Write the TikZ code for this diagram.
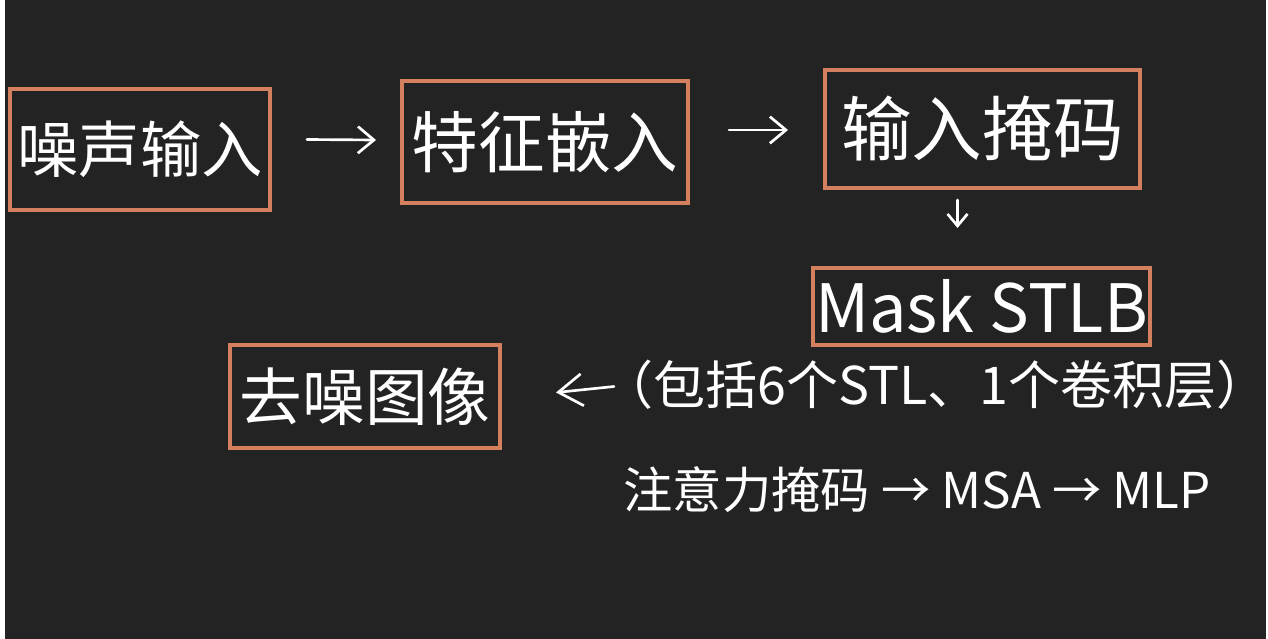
\documentclass[tikz,border=0pt]{standalone}
\usepackage{fontspec}
\setmainfont{Noto Sans CJK SC}
\usetikzlibrary{arrows.meta}
\definecolor{bg}{RGB}{35,35,36}
\definecolor{boxc}{RGB}{212,128,95}
\begin{document}
\begin{tikzpicture}[x=0.75pt,y=-0.75pt,
  box/.style={draw=boxc,line width=3pt,text=white,inner sep=0pt},
  arr/.style={draw=white,line width=2pt,line cap=round,-{Straight Barb[length=12pt,width=20pt,line width=2pt]}},
  lbl/.style={text=white,inner sep=0pt}]
\fill[white] (0,0) rectangle (1268,639);
\fill[bg] (5,0) rectangle (1266,639);
\useasboundingbox (0,0) rectangle (1268,639);
\node[box,minimum width=195pt,minimum height=90.75pt,font=\fontsize{46}{50}\selectfont] (b1) at (140,149.5) {噪声输入};
\node[box,minimum width=214.5pt,minimum height=91.5pt,font=\fontsize{50}{54}\selectfont] (b2) at (545,142) {特征嵌入};
\node[box,minimum width=236.25pt,minimum height=88.5pt,font=\fontsize{53}{56}\selectfont] (b3) at (982.5,129) {输入掩码};
\node[box,minimum width=252.75pt,minimum height=57.75pt,font=\fontsize{50}{54}\selectfont] (b4) at (981.5,306.5) {Mask STLB};
\node[box,minimum width=202.5pt,minimum height=77.25pt,font=\fontsize{47}{50}\selectfont] (b5) at (365,396.5) {去噪图像};
\node[lbl,font=\fontsize{39}{42}\selectfont] (p) at (935,385) {（包括6个STL、1个卷积层）};
\node[lbl,font=\fontsize{37}{40}\selectfont] (q) at (917,490) {注意力掩码 → MSA → MLP};
\draw[arr] ([shift={(35,-10)}]b1.east) -- ([shift={(-24,-2)}]b2.west);
\draw[arr] ([shift={(39,-12)}]b2.east) -- ([shift={(-35,1)}]b3.west);
\draw[arr,-{Straight Barb[length=9pt,width=15pt,line width=2pt]}] ([shift={(-25,10)}]b3.south) -- ([shift={(-24,-38)}]b4.north);
\draw[arr,-{Straight Barb[length=18pt,width=24pt,line width=2pt]}] ([shift={(112,-10)}]b5.east) -- ([shift={(54,-4)}]b5.east);
\end{tikzpicture}
\end{document}
